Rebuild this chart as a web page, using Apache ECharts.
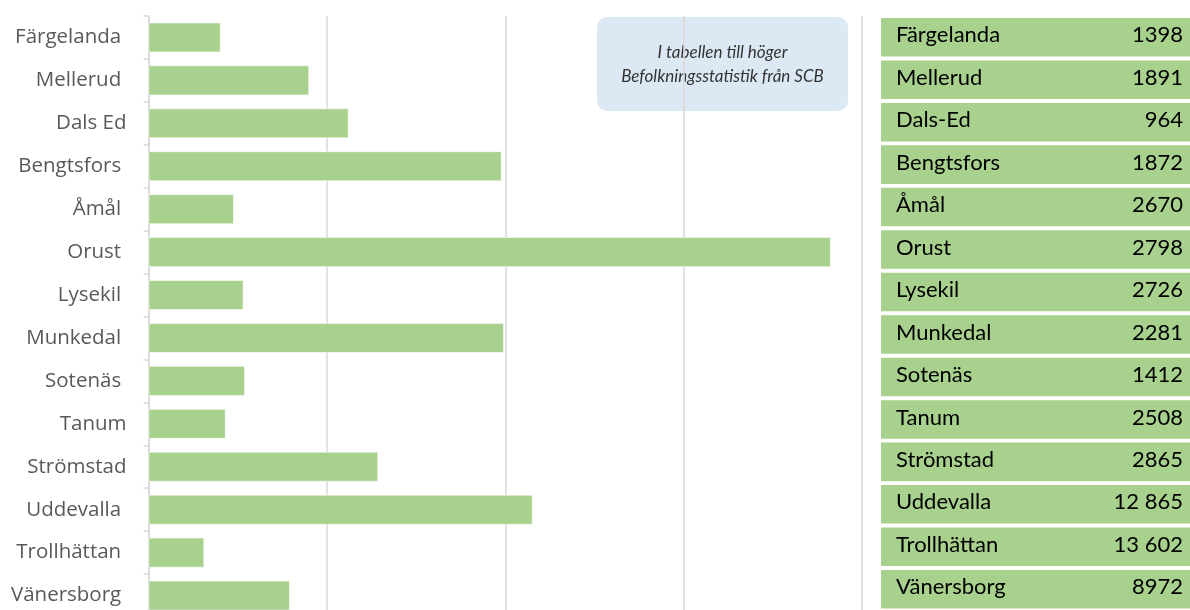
<!DOCTYPE html>
<html>
<head>
<meta charset="utf-8">
<script src="https://cdn.jsdelivr.net/npm/echarts@6/dist/echarts.min.js"></script>
<style>
html,body{margin:0;padding:0;background:#fff;}
#chart{width:1190px;height:610px;}
</style>
</head>
<body>
<div id="chart"></div>
<script>
// Bar chart categories (trailing spaces as in the original labels)
const categories = ['Färgelanda ', 'Mellerud ', 'Dals Ed', 'Bengtsfors ', 'Åmål ', 'Orust ', 'Lysekil ', 'Munkedal ', 'Sotenäs ', 'Tanum', 'Strömstad', 'Uddevalla ', 'Trollhättan ', 'Vänersborg '];
const barValues = [0.405, 0.901, 1.122, 1.98, 0.479, 3.826, 0.533, 1.993, 0.541, 0.433, 1.288, 2.154, 0.313, 0.793];
const axisMax = 4;
const axisInterval = 1;

// Table on the right
const tableNames = ['Färgelanda', 'Mellerud', 'Dals-Ed', 'Bengtsfors', 'Åmål', 'Orust', 'Lysekil', 'Munkedal', 'Sotenäs', 'Tanum', 'Strömstad', 'Uddevalla', 'Trollhättan', 'Vänersborg'];
const tableValues = [1398, 1891, 964, 1872, 2670, 2798, 2726, 2281, 1412, 2508, 2865, 12865, 13602, 8972];

const noteLines = ['I tabellen till höger', 'Befolkningsstatistik från SCB'];

function fmt(v) {
  const s = String(v);
  return v >= 10000 ? s.slice(0, s.length - 3) + ' ' + s.slice(-3) : s;
}

const GREEN = '#a9d18e';
const chart = echarts.init(document.getElementById('chart'));

chart.setOption({
  animation: false,
  backgroundColor: '#ffffff',
  grid: [
    { left: 148.5, top: 16, width: 713.5, height: 601, containLabel: false, outerBoundsMode: 'none' },
    { left: 881, top: 16, width: 309, height: 594.5, containLabel: false, outerBoundsMode: 'none' }
  ],
  xAxis: [
    {
      gridIndex: 0, type: 'value', min: 0, max: axisMax, interval: axisInterval,
      axisLabel: { show: false }, axisLine: { show: false }, axisTick: { show: false },
      splitLine: { show: true, lineStyle: { color: '#d9d9d9', width: 1.5 } }
    },
    {
      gridIndex: 1, type: 'value', min: 0, max: 1, show: false
    }
  ],
  yAxis: [
    {
      gridIndex: 0, type: 'category', data: categories, inverse: true,
      axisLine: { show: true, lineStyle: { color: '#d9d9d9', width: 1.5 } },
      axisTick: { show: true, length: 5, lineStyle: { color: '#d9d9d9', width: 1.5 } },
      axisLabel: { color: '#595959', fontSize: 20.5, fontFamily: 'Open Sans', margin: 22 },
      splitLine: { show: false }
    },
    {
      gridIndex: 1, type: 'category', data: tableNames, inverse: true, show: false
    }
  ],
  series: [
    {
      type: 'bar', xAxisIndex: 0, yAxisIndex: 0, data: barValues,
      barCategoryGap: '30%',
      itemStyle: { color: GREEN, borderColor: 'rgba(255,255,255,0.55)', borderWidth: 1 },
      z: 3
    },
    {
      type: 'custom', xAxisIndex: 1, yAxisIndex: 1,
      data: tableNames.map((n, i) => [0, i, tableValues[i]]),
      encode: { x: 0, y: 1 },
      renderItem: function (params, api) {
        const idx = api.value(1);
        const p0 = api.coord([0, idx]);
        const p1 = api.coord([1, idx]);
        const h = api.size([0, 1])[1] * 0.907;
        return {
          type: 'group',
          children: [
            { type: 'rect', shape: { x: p0[0], y: p0[1] - h / 2, width: p1[0] - p0[0], height: h }, style: { fill: GREEN } },
            { type: 'text', style: { text: tableNames[idx], x: p0[0] + 15, y: p0[1] - 2, fill: '#000000', fontSize: 22, fontFamily: 'Lato', align: 'left', verticalAlign: 'middle' } },
            { type: 'text', style: { text: fmt(api.value(2)), x: p1[0] - 7, y: p0[1] - 2, fill: '#000000', fontSize: 22, fontFamily: 'Lato', align: 'right', verticalAlign: 'middle' } }
          ]
        };
      }
    }
  ],
  graphic: [
    {
      type: 'group', left: 597, top: 17, z: 100,
      children: [
        { type: 'rect', shape: { x: 0, y: 0, width: 251, height: 94, r: 10 }, style: { fill: '#dde8f5' } },
        { type: 'text', style: { text: noteLines[0], x: 125.5, y: 36, fill: '#333333', fontSize: 17, fontFamily: 'Lato', fontStyle: 'italic', align: 'center', verticalAlign: 'middle' } },
        { type: 'text', style: { text: noteLines[1], x: 125.5, y: 60, fill: '#333333', fontSize: 17, fontFamily: 'Lato', fontStyle: 'italic', align: 'center', verticalAlign: 'middle' } }
      ]
    }
  ]
});
</script>
</body>
</html>
